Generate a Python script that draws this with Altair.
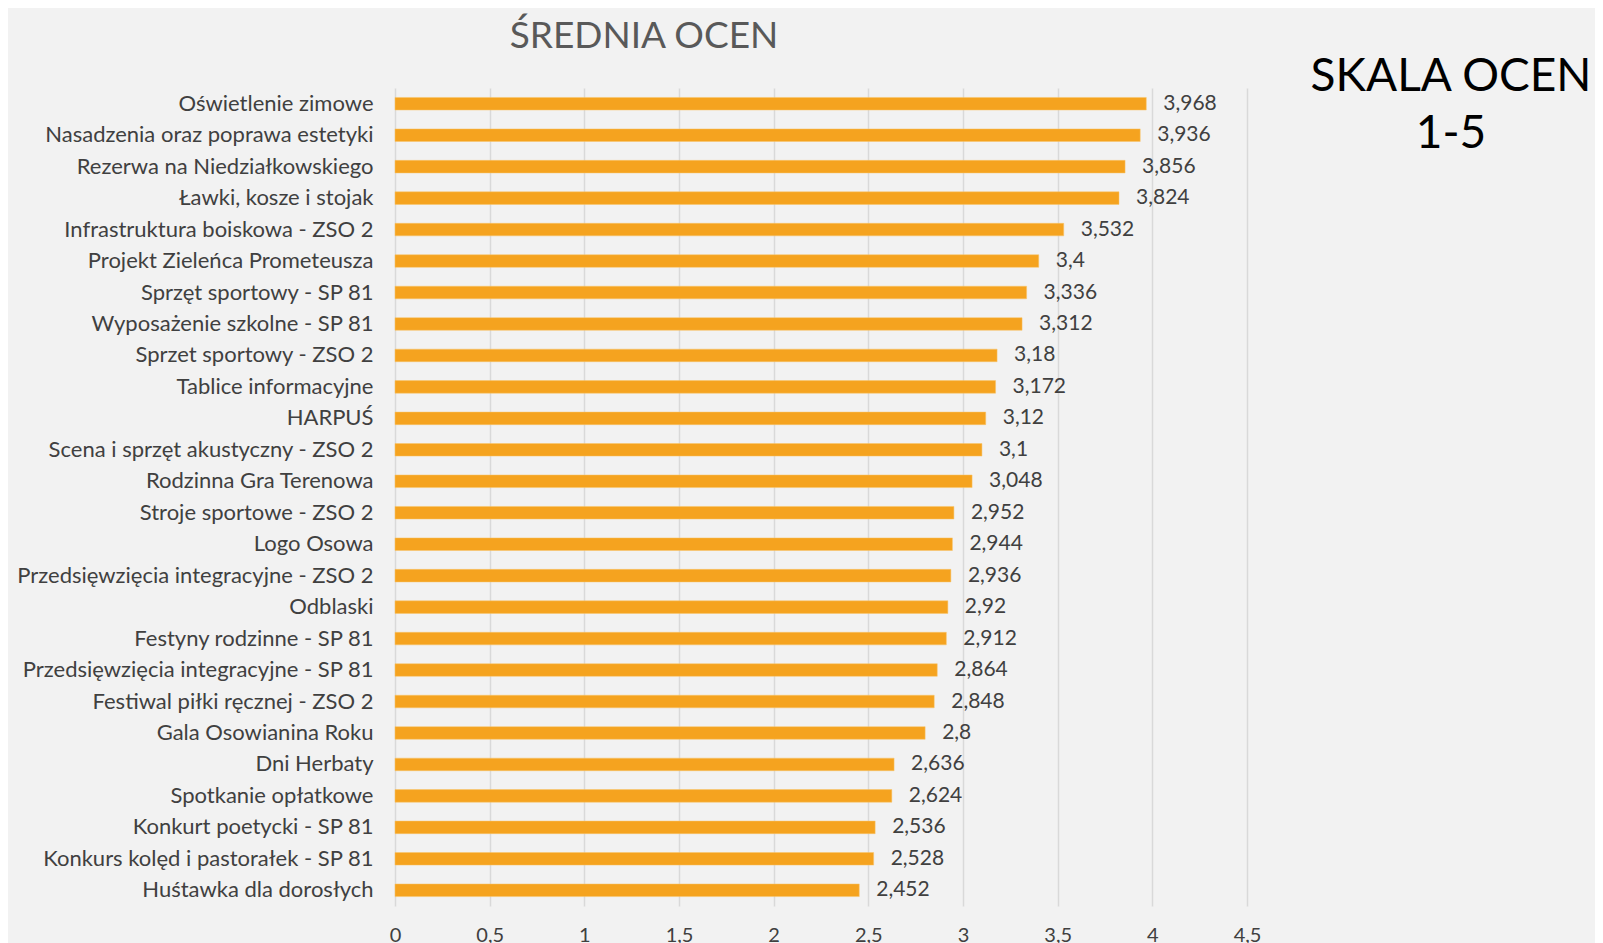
import altair as alt
import pandas as pd

categories = [
    "Oświetlenie zimowe",
    "Nasadzenia oraz poprawa estetyki",
    "Rezerwa na Niedziałkowskiego",
    "Ławki, kosze i stojak",
    "Infrastruktura boiskowa - ZSO 2",
    "Projekt Zieleńca Prometeusza",
    "Sprzęt sportowy - SP 81",
    "Wyposażenie szkolne - SP 81",
    "Sprzet sportowy - ZSO 2",
    "Tablice informacyjne",
    "HARPUŚ",
    "Scena i sprzęt akustyczny - ZSO 2",
    "Rodzinna Gra Terenowa",
    "Stroje sportowe - ZSO 2",
    "Logo Osowa",
    "Przedsięwzięcia integracyjne - ZSO 2",
    "Odblaski",
    "Festyny rodzinne - SP 81",
    "Przedsięwzięcia integracyjne - SP 81",
    "Festiwal piłki ręcznej - ZSO 2",
    "Gala Osowianina Roku",
    "Dni Herbaty",
    "Spotkanie opłatkowe",
    "Konkurt poetycki - SP 81",
    "Konkurs kolęd i pastorałek - SP 81",
    "Huśtawka dla dorosłych",
]
values = [3.968, 3.936, 3.856, 3.824, 3.532, 3.4, 3.336, 3.312, 3.18, 3.172,
          3.12, 3.1, 3.048, 2.952, 2.944, 2.936, 2.92, 2.912, 2.864, 2.848,
          2.8, 2.636, 2.624, 2.536, 2.528, 2.452]
x_ticks = [0, 0.5, 1, 1.5, 2, 2.5, 3, 3.5, 4, 4.5]

title_text = "ŚREDNIA OCEN"
side_line1 = "SKALA OCEN"
side_line2 = "1-5"

df = pd.DataFrame({"project": categories, "score": values})

FONT = "Lato"
W, H = 852, 818

base = alt.Chart(df).transform_calculate(
    label="replace(toString(datum.score), '.', ',')"
)

y_enc = alt.Y("project:N", sort=None, title=None,
              scale=alt.Scale(paddingInner=0.6, paddingOuter=0.3),
              axis=alt.Axis(domain=False, ticks=False, labelFontSize=22,
                            labelColor="#404040", labelFont=FONT,
                            labelPadding=22, labelLimit=420))
x_enc = alt.X("score:Q", title=None,
              scale=alt.Scale(domain=[0, 4.5], nice=False),
              axis=alt.Axis(values=x_ticks, domain=False, ticks=False,
                            gridColor="#D9D9D9", gridWidth=1.5,
                            labelFontSize=20, labelColor="#404040",
                            labelFont=FONT, labelPadding=19, labelFlush=False,
                            labelExpr="replace(toString(datum.value), '.', ',')"))

bars = base.mark_bar(color="#F5A31F", stroke="#F9C46A", strokeWidth=0.5).encode(
    y=y_enc, x=x_enc)

labels = base.mark_text(align="left", baseline="middle", dx=17, font=FONT,
                        fontSize=21, color="#404040").encode(
    y=alt.Y("project:N", sort=None), x=alt.X("score:Q"), text="label:N")

title_df = pd.DataFrame({"t": [title_text]})
title = alt.Chart(title_df).mark_text(font=FONT, fontSize=37, color="#595959",
                                      align="center", baseline="middle").encode(
    text="t:N", x=alt.value(249), y=alt.value(-51))

s1 = alt.Chart(pd.DataFrame({"t": [side_line1]})).mark_text(
    font=FONT, fontSize=46, color="#000000", align="center", baseline="middle").encode(
    text="t:N", x=alt.value(1056), y=alt.value(-11))
s2 = alt.Chart(pd.DataFrame({"t": [side_line2]})).mark_text(
    font=FONT, fontSize=46, color="#000000", align="center", baseline="middle").encode(
    text="t:N", x=alt.value(1056), y=alt.value(46))

chart = alt.layer(bars, labels, title, s1, s2).properties(
    width=W, height=H,
    background="#F2F2F2",
    padding={"left": 387, "top": 80, "right": 348, "bottom": 50},
    autosize=alt.AutoSizeParams(type="none"),
).configure_view(stroke=None)

chart.save("out.html", embed_options={"renderer": "svg", "actions": False})
